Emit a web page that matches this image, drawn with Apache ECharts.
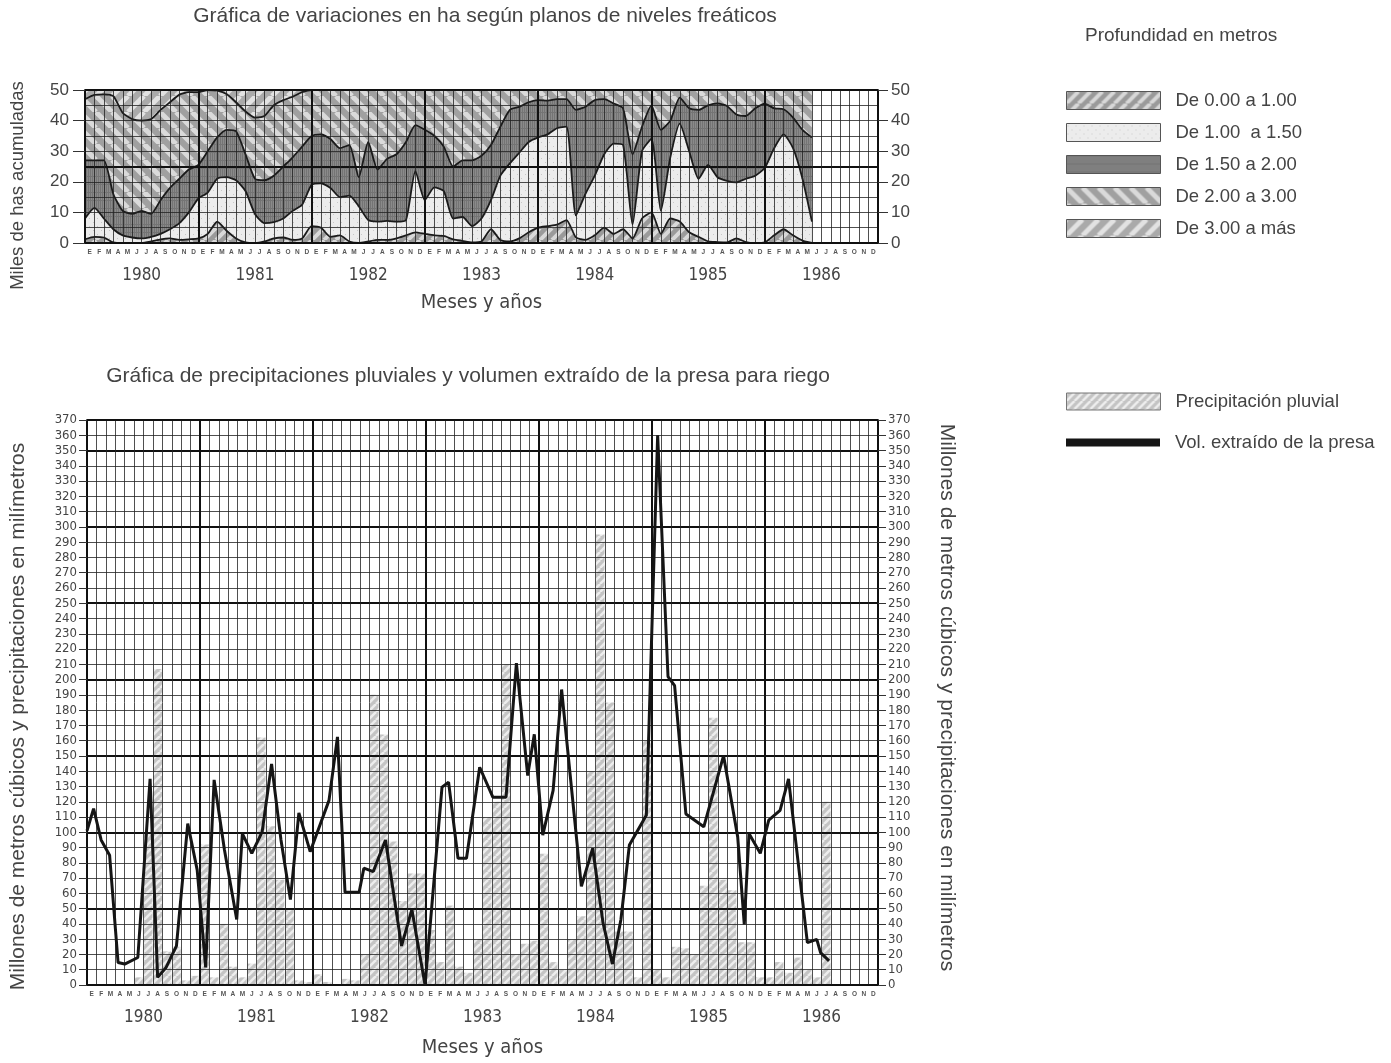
<!DOCTYPE html>
<html><head><meta charset="utf-8">
<script src="https://cdn.jsdelivr.net/npm/echarts@6/dist/echarts.min.js"></script>
<style>html,body{margin:0;padding:0;background:#fff;}#c{width:1391px;height:1063px;}</style>
</head><body><div id="c"></div>
<script>
// ---------- DATA ----------
const meses = ['E','F','M','A','M','J','J','A','S','O','N','D'];
const anios = ['1980','1981','1982','1983','1984','1985','1986'];
const ejeY1Max = 50;           // miles de ha (total acumulado)
const ejeY2Max = 370;
// Límites acumulados (miles de ha), un valor por mes desde enero 1980
const limite1 = [1.2,2,1.8,0.2,0,0,0,0.5,1.2,1.5,1,1.2,
 1.5,3,7,4,1.5,0.2,0,0.5,1.5,1.8,1,1.5,
 5.5,5,2,2.5,0.5,0,0.5,1,1,1.5,2.5,3.5,
 3,2.5,2.3,1.2,0.7,0.2,0.5,4.5,1,0.5,1.5,3.5,
 5,5.5,6,7.5,1.8,1,2.5,5,3,4.5,1.5,8,
 10,3,8,7,3.5,2,0.5,0.3,0.2,1.5,0.3,0,
 0.2,2.5,4.5,2.5,0.8,0];
const limite2 = [8,11.5,8,4.5,2.5,1.8,1.5,2,3,4.5,6.5,10,
 14.5,16.5,21,21.5,20.5,17,9.5,6.5,6.8,8,10.5,12.5,
 19,19.5,18,15,15.5,12,7.5,7,7.2,7,7.5,23.5,
 14,18.2,17,8,8.5,5.5,8,14,22,26,29.5,33,
 34.5,35.5,37.5,38,9,16,22,29,32.5,32,6,30,
 34,10.5,28,39,30,21,25.5,21.5,20.3,19.8,21,22,
 24.5,31,35.5,31,21,7];
const limite3 = [27,27,27,16,10.5,9.5,10.5,9.5,14,18,21,24,
 25.5,30,34.5,37,36.5,29,21,20.5,22,25,28,31.5,
 35,35.5,34,31,32,21.5,33,24,27.5,29,33,38.5,
 37,35,31.5,25,27,27,28.5,32,38,43.5,44.5,46,
 46.7,46.5,47,47,43.5,44.5,46.7,47,45.6,44,29,38,
 45,37,40,47.5,44,43.5,45,45.6,44.8,42,41.5,44,
 45.5,44,43.7,41,37,34.5];
const limite4 = [47,48.4,48.6,48,42.5,40.5,40,40.5,43.5,46,48.5,49.3,
 49.3,50,49.8,48.7,46,43,41,41.5,45,46.7,47.8,49.3,
 50,50,50,50,50,50,50,50,50,50,50,50,
 50,50,50,50,50,50,50,50,50,50,50,50,
 50,50,50,50,50,50,50,50,50,50,50,50,
 50,50,50,50,50,50,50,50,50,50,50,50,
 50,50,50,50,50,50];
const nombresCapas = ['De 0.00 a 1.00','De 1.00  a 1.50','De 1.50 a 2.00','De 2.00 a 3.00','De 3.00 a más'];

// Precipitación pluvial mensual (mm), enero 1980 - julio 1986
const precipitacion = [0,0,0,0,0,5,100,207,22,25,3,6,
 92,5,40,12,5,14,162,104,69,50,3,2,
 7,2,0,4,3,20,190,164,94,55,73,73,
 36,15,52,12,8,30,110,120,210,20,27,29,
 86,15,10,30,45,140,295,185,35,35,5,160,
 10,5,25,24,20,65,175,69,62,28,28,5,
 5,15,8,18,10,5,120];
// Volumen extraído de la presa (millones m3): posición en meses desde ene-1980 y valor
const volMes = [0,0.7,1.5,2.4,3.3,4,5.4,6.7,7.5,8.4,9.5,10.7,11.7,12.6,13.5,14.6,15.9,16.5,17.5,18.6,
 19.6,20.6,21.6,22.5,23.7,25.7,26.6,27.4,28.9,29.4,30.4,31.7,33.4,34.5,35.9,37.7,38.4,39.4,40.3,41.7,
 43.1,44.5,45.6,46.8,47.5,48.4,49.5,50.4,52.5,53.7,54.8,55.8,56.7,57.6,59.4,60.6,61.7,62.4,63.6,65.5,
 67.6,69.1,69.8,70.3,71.5,72.4,73.6,74.5,76.5,77.5,77.9,78.8];
const volValor = [101,115.5,95,85,14.7,13.7,18,135,5,11.5,25.6,105.7,75.4,11.5,134.3,88.4,42.9,99.2,86.2,100.3,
 144.7,95,55.9,112.7,87.3,120.9,162.5,60.7,60.7,76.5,74.3,95,25.6,49.4,0,129.6,132.8,83,83,142.6,
 123,123,210.8,137.2,164.2,98.2,127.4,193.5,64.6,89.5,40.7,13.7,42.9,91.7,111.2,360,202,196,112,103.6,
 150.2,97,39.7,99.2,86.2,107.9,114.4,135,27.7,29.9,21.2,15.8];

// ---------- PATTERNS ----------
function hatch(bg, fg, size, lw, dir){
  const c=document.createElement('canvas'); c.width=size; c.height=size;
  const g=c.getContext('2d'); g.fillStyle=bg; g.fillRect(0,0,size,size);
  g.strokeStyle=fg; g.lineWidth=lw;
  for(let k=-1;k<=1;k++){ g.beginPath();
    if(dir>0){ g.moveTo(k*size,size); g.lineTo(k*size+size,0); }
    else { g.moveTo(k*size,0); g.lineTo(k*size+size,size); }
    g.stroke(); }
  return {image:c, repeat:'repeat'};
}
function vlines(bg, fg, size){
  const c=document.createElement('canvas'); c.width=size; c.height=size;
  const g=c.getContext('2d'); g.fillStyle=bg; g.fillRect(0,0,size,size);
  g.fillStyle=fg; for(let x=0;x<size;x+=2){ g.fillRect(x,0,1,size);} 
  g.fillRect(0,0,size,1);
  return {image:c, repeat:'repeat'};
}
function dots(bg, fg, size){
  const c=document.createElement('canvas'); c.width=size; c.height=size;
  const g=c.getContext('2d'); g.fillStyle=bg; g.fillRect(0,0,size,size);
  g.fillStyle=fg; g.fillRect(1,2,1,1); g.fillRect(5,6,1,1);
  return {image:c, repeat:'repeat'};
}
const patCapa = [
  hatch('#9a9a9a','#d8d8d8',12,4,1),
  dots('#ececec','#c8c8c8',8),
  vlines('#8a8a8a','#747474',8),
  hatch('#a0a0a0','#dadada',16,5,-1),
  hatch('#aaaaaa','#e2e2e2',16,5,1)
];
const patLluvia = hatch('#c4c4c4','#ededed',8,2.6,1);

// ---------- OPTION ----------
const FONT='Liberation Sans, Arial, sans-serif';
const NARROW="'Liberation Sans Narrow','DejaVu Sans Condensed','Liberation Sans',sans-serif";
const mesesTodos = anios.flatMap(()=>meses);
const G0={left:84, top:90, width:794, height:153};
const G1={left:84, top:420, width:794, height:569};
const thin={color:'#222', width:0.8};

function xAxes(gi){
  return [
    {gridIndex:gi,type:'category',data:mesesTodos,boundaryGap:true,position:'bottom',z:3,
     axisLine:{onZero:false,lineStyle:{color:'#111',width:1.5}},axisTick:{show:false},
     axisLabel:{interval:0,fontSize:6.5,fontWeight:'bold',color:'#555',margin:6,fontFamily:FONT},
     splitLine:{show:true,interval:0,lineStyle:thin}},
    {gridIndex:gi,type:'category',data:anios,boundaryGap:true,position:'bottom',z:3,
     axisLine:{show:false,onZero:false},axisTick:{show:false},
     axisLabel:{fontSize:17,color:'#444',margin:24,fontFamily:NARROW},
     splitLine:{show:true,lineStyle:{color:'#111',width:2}},
     name:'Meses y años',nameLocation:'middle',nameGap:gi===0?50:53,
     nameTextStyle:{fontSize:20,color:'#444',fontFamily:NARROW}},
    {gridIndex:gi,type:'value',min:0,max:84,show:false},
    {gridIndex:gi,type:'value',min:0,max:84,position:'top',z:3,
     axisLine:{show:true,onZero:false,lineStyle:{color:'#111',width:1.5}},
     axisTick:{show:false},axisLabel:{show:false},splitLine:{show:false}}
  ];
}
const yName2='Millones de metros cúbicos y precipitaciones en milímetros';
const option={
  animation:false,
  backgroundColor:'#fff',
  title:[
    {text:'Gráfica de variaciones en ha según planos de niveles freáticos',left:485,top:6,textAlign:'center',padding:0,
     textStyle:{fontSize:21,fontWeight:'normal',color:'#444',fontFamily:FONT}},
    {text:'Gráfica de precipitaciones pluviales y volumen extraído de la presa para riego',left:468,top:366,textAlign:'center',padding:0,
     textStyle:{fontSize:21,fontWeight:'normal',color:'#444',fontFamily:FONT}},
    {text:'Profundidad en metros',left:1085,top:26,padding:0,textStyle:{fontSize:19,fontWeight:'normal',color:'#444',fontFamily:FONT}}
  ],
  legend:[
    {orient:'vertical',left:1066,top:91,itemWidth:94,itemHeight:18,itemGap:13,icon:'rect',selectedMode:false,padding:0,
     data:nombresCapas,itemStyle:{borderColor:'#555',borderWidth:1},
     textStyle:{fontSize:18.5,color:'#444',fontFamily:FONT,padding:[0,0,0,10]}},
    {orient:'vertical',left:1066,top:392,itemWidth:94,itemHeight:17,icon:'rect',selectedMode:false,padding:0,
     data:['Precipitación pluvial'],itemStyle:{borderColor:'#777',borderWidth:1},
     textStyle:{fontSize:18.5,color:'#444',fontFamily:FONT,padding:[0,0,0,10]}},
    {orient:'vertical',left:1066,top:433,itemWidth:94,itemHeight:8,icon:'rect',selectedMode:false,padding:0,
     data:['Vol. extraído de la presa'],
     textStyle:{fontSize:18.5,color:'#444',fontFamily:FONT,padding:[0,0,0,10]}}
  ],
  grid:[G0,G1],
  xAxis:[...xAxes(0),...xAxes(1)],
  yAxis:[
    {gridIndex:0,type:'value',min:0,max:ejeY1Max,interval:10,position:'left',z:3,
     axisLine:{show:true,onZero:false,lineStyle:{color:'#111',width:1.5}},
     axisTick:{show:true,length:12,lineStyle:{color:'#333'}},
     axisLabel:{fontSize:17,color:'#444',margin:16,fontFamily:FONT},
     splitLine:{show:true,lineStyle:thin},minorTick:{show:false,splitNumber:2},
     minorSplitLine:{show:true,lineStyle:thin},
     name:'Miles de has acumuladas',nameLocation:'middle',nameGap:58,nameRotate:90,
     nameTextStyle:{fontSize:18.5,color:'#444',fontFamily:FONT,padding:[0,38,0,0]}},
    {gridIndex:0,type:'value',min:0,max:ejeY1Max,interval:10,position:'right',z:3,
     axisLine:{show:true,onZero:false,lineStyle:{color:'#111',width:1.5}},
     axisTick:{show:true,length:10,lineStyle:{color:'#333'}},
     axisLabel:{fontSize:17,color:'#444',margin:13,fontFamily:FONT},splitLine:{show:false}},
    {gridIndex:0,type:'value',min:0,max:ejeY1Max,interval:25,position:'left',z:3,
     axisLine:{show:false,onZero:false},axisTick:{show:false},axisLabel:{show:false},
     splitLine:{show:true,lineStyle:{color:'#111',width:2.2}}},
    {gridIndex:1,type:'value',min:0,max:ejeY2Max,interval:10,position:'left',z:3,
     axisLine:{show:true,onZero:false,lineStyle:{color:'#111',width:1.5}},
     axisTick:{show:true,length:8,lineStyle:{color:'#333'}},
     axisLabel:{fontSize:13,color:'#444',margin:10,fontFamily:NARROW},
     splitLine:{show:true,lineStyle:thin},
     name:yName2,nameLocation:'middle',nameGap:58,nameRotate:90,
     nameTextStyle:{fontSize:21,color:'#444',fontFamily:FONT,padding:[0,28,0,0]}},
    {gridIndex:1,type:'value',min:0,max:ejeY2Max,interval:10,position:'right',z:3,
     axisLine:{show:true,onZero:false,lineStyle:{color:'#111',width:1.5}},
     axisTick:{show:true,length:8,lineStyle:{color:'#333'}},
     axisLabel:{fontSize:13,color:'#444',margin:10,fontFamily:NARROW},splitLine:{show:false},
     name:yName2,nameLocation:'middle',nameGap:58,nameRotate:-90,
     nameTextStyle:{fontSize:21,color:'#444',fontFamily:FONT,padding:[0,10,0,0]}},
    {gridIndex:1,type:'value',min:0,max:ejeY2Max,interval:50,position:'left',z:3,
     axisLine:{show:false,onZero:false},axisTick:{show:false},axisLabel:{show:false},
     splitLine:{show:true,lineStyle:{color:'#111',width:2}}}
  ],
  series:[]
};
// Capas (pintadas de arriba hacia abajo, cada una rellena hasta 0)
const limites=[limite1,limite2,limite3,limite4,limite4.map(()=>ejeY1Max)];
for(let k=4;k>=0;k--){
  option.series.push({
    name:nombresCapas[k],type:'line',xAxisIndex:2,yAxisIndex:0,z:2,
    data:limites[k].map((v,i)=>[i,v]),showSymbol:false,smooth:0.2,
    lineStyle:{color:'#1a1a1a',width:k===4?0:1.8},
    itemStyle:{color:patCapa[k]},
    areaStyle:{color:patCapa[k],opacity:1}
  });
}
option.series.push({
  name:'Precipitación pluvial',type:'bar',xAxisIndex:4,yAxisIndex:3,z:2,
  data:precipitacion,barCategoryGap:'8%',itemStyle:{color:patLluvia}
});
option.series.push({
  name:'Vol. extraído de la presa',type:'line',xAxisIndex:6,yAxisIndex:3,z:6,
  data:volMes.map((m,i)=>[m,volValor[i]]),showSymbol:false,
  lineStyle:{color:'#151515',width:3},itemStyle:{color:'#151515'}
});
const chart=echarts.init(document.getElementById('c'),null,{renderer:'canvas'});
chart.setOption(option);
</script></body></html>
